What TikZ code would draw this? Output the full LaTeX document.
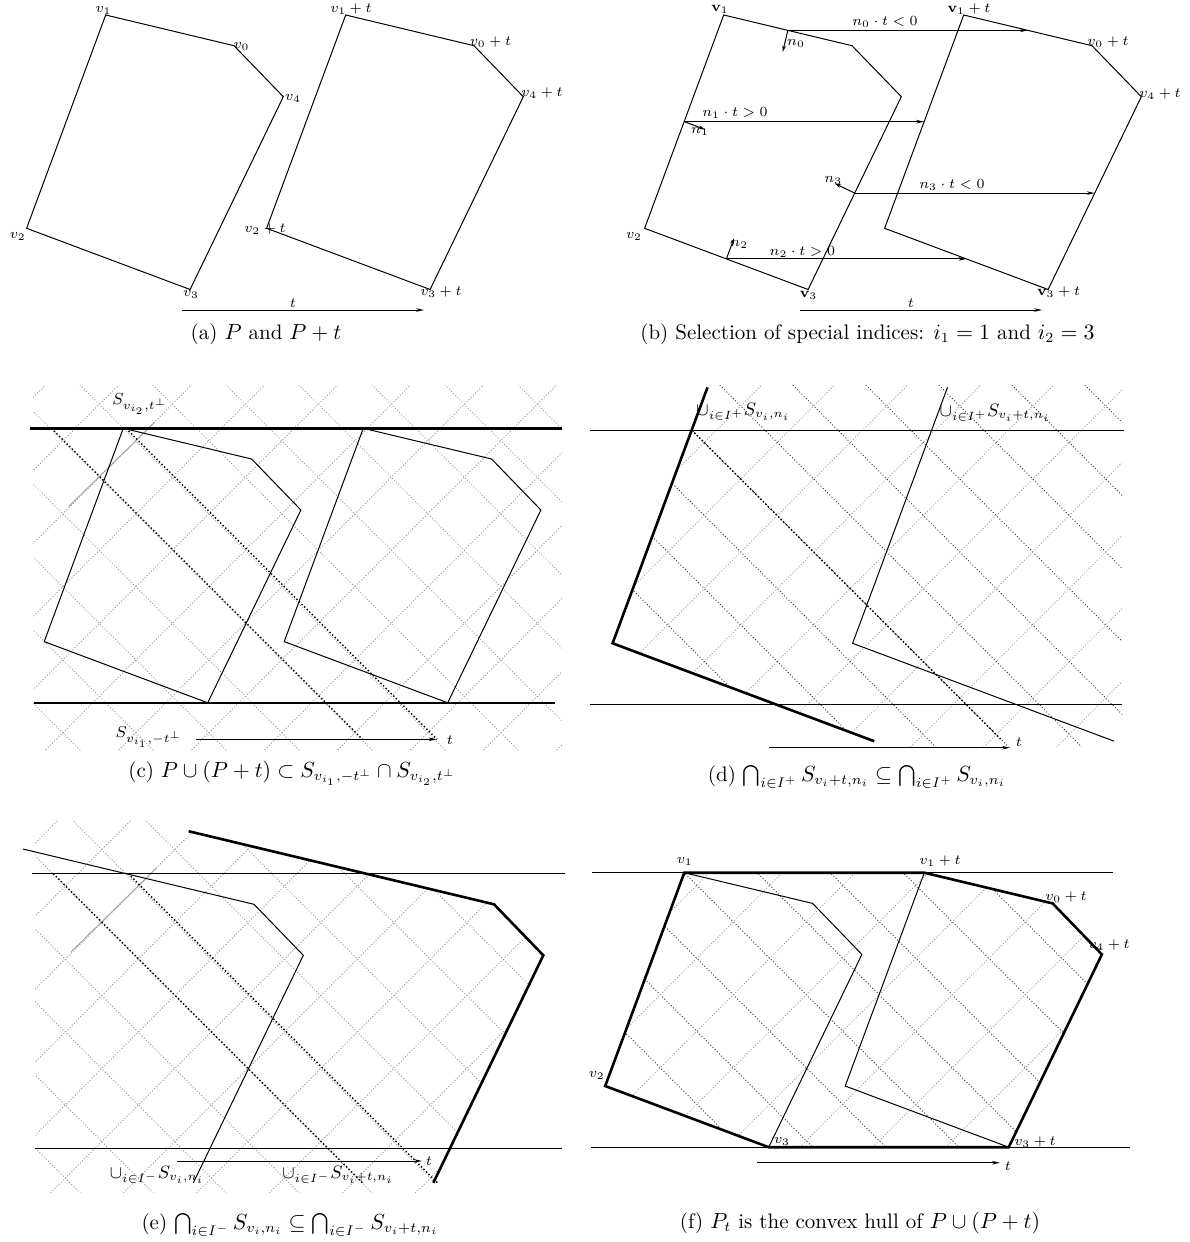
\documentclass[tikz,border=0pt]{standalone}
\usepackage{amsmath,amssymb}
\usetikzlibrary{arrows.meta,calc}

\tikzset{
  polyedge/.style={line width=0.5pt},
  hulledge/.style={line width=1.3pt},
  tarrow/.style={line width=0.5pt,-{Stealth[length=4pt,width=1.8pt]}},
  normalarrow/.style={line width=0.5pt,-{Stealth[length=3pt,width=1.8pt]}},
  hatchgray/.style={gray!75,line width=0.5pt,dash pattern=on 0.5pt off 1pt},
  hatchdark/.style={black!85,line width=0.45pt,dash pattern=on 0.45pt off 1.1pt},
  halfline/.style={black,line width=0.7pt,dash pattern=on 0.7pt off 1.1pt},
  leader/.style={gray!70,line width=0.5pt},
  vlabel/.style={font=\scriptsize,inner sep=0pt},
  slabel/.style={font=\footnotesize,inner sep=0pt},
  ulabel/.style={font=\small,inner sep=0pt},
  subcaption/.style={font=\fontsize{10.5}{12}\selectfont,inner sep=0pt},
}

% the polygon P and its translate P+t, in panel coordinates
\newcommand{\placepoly}{%
  \coordinate (v0) at (234,45.7);
  \coordinate (v1) at (105.7,15);
  \coordinate (v2) at (26.6,228.3);
  \coordinate (v3) at (190.1,289.5);
  \coordinate (v4) at (283.3,96.7);
  \coordinate (v0t) at (474,45.7);
  \coordinate (v1t) at (345.7,15);
  \coordinate (v2t) at (266.6,228.3);
  \coordinate (v3t) at (430.1,289.5);
  \coordinate (v4t) at (523.3,96.7);}

% crossing dotted lines at 45 degrees
\newcommand{\hatchgrid}[2]{%
  \foreach \k in {0,...,18} {
    \draw[#2] (73*\k-780.3,415) -- ++(800,-800);
    \draw[#1] (73*\k-805.3,-385) -- ++(800,800);
  }}

\begin{document}
\begin{tikzpicture}[x=0.5pt,y=-0.5pt]
  \useasboundingbox (0,0) rectangle (1189,1242);

  % (a) P and P+t
  \begin{scope}
    \placepoly
    \draw[polyedge] (v0) -- (v1) -- (v2) -- (v3) -- (v4) -- cycle;
    \draw[polyedge] (v0t) -- (v1t) -- (v2t) -- (v3t) -- (v4t) -- cycle;
    \node[vlabel] (a-v1) at (103.5,10.5) {$v_1$};
    \node[vlabel] (a-v0) at (241.5,46) {$v_0$};
    \node[vlabel] (a-v4) at (293,98) {$v_4$};
    \node[vlabel] (a-v3) at (191,294) {$v_3$};
    \node[vlabel] (a-v2) at (17.7,236) {$v_2$};
    \node[vlabel] (a-v1t) at (351,9.3) {$v_1+t$};
    \node[vlabel] (a-v0t) at (490.5,41.7) {$v_0+t$};
    \node[vlabel] (a-v4t) at (542,93.3) {$v_4+t$};
    \node[vlabel] (a-v2t) at (265,229.3) {$v_2+t$};
    \node[vlabel] (a-v3t) at (441,292.3) {$v_3+t$};
    \coordinate (a-ts) at (181.7,310);
    \coordinate (a-te) at (424,310);
    \draw[tarrow] (a-ts) -- (a-te);
    \node[vlabel] (a-t) at (292.8,302.7) {$t$};
  \end{scope}

  % (b) special indices
  \begin{scope}[shift={(618,0)}]
    \placepoly
    \draw[polyedge] (v0) -- (v1) -- (v2) -- (v3) -- (v4) -- cycle;
    \draw[polyedge] (v0t) -- (v1t) -- (v2t) -- (v3t) -- (v4t) -- cycle;
    \foreach \i/\j in {0/1,1/2,2/3,3/4} {
      \coordinate (m\i) at ($(v\i)!0.5!(v\j)$);
      \coordinate (m\i t) at ($(v\i t)!0.5!(v\j t)$);
      \coordinate (n\i) at ($(m\i)!11pt!-90:(v\i)$);
      \draw[tarrow] (m\i) -- (m\i t);
      \draw[normalarrow] (m\i) -- (n\i);
    }
    \node[vlabel] (b-n0) at (178,43.3) {$n_0$};
    \node[vlabel] (b-n1) at (82,131.7) {$n_1$};
    \node[vlabel] (b-n2) at (121.3,244) {$n_2$};
    \node[vlabel] (b-n3) at (215.3,180) {$n_3$};
    \node[vlabel] (b-p0) at (267,21.7) {$n_0\cdot t<0$};
    \node[vlabel] (b-p1) at (117,113) {$n_1\cdot t>0$};
    \node[vlabel] (b-p2) at (184.3,251.7) {$n_2\cdot t>0$};
    \node[vlabel] (b-p3) at (334,185) {$n_3\cdot t<0$};
    \node[vlabel] (b-v1) at (102,9.5) {$\mathbf{v}_1$};
    \node[vlabel] (b-v1t) at (351,9.3) {$\mathbf{v}_1+t$};
    \node[vlabel] (b-v0t) at (490,41.7) {$v_0+t$};
    \node[vlabel] (b-v4t) at (542,94) {$v_4+t$};
    \node[vlabel] (b-v2) at (16,236) {$v_2$};
    \node[vlabel] (b-v3) at (190.5,295) {$\mathbf{v}_3$};
    \node[vlabel] (b-v3t) at (440.6,292.3) {$\mathbf{v}_3+t$};
    \coordinate (b-ts) at (181.7,310);
    \coordinate (b-te) at (424,310);
    \draw[tarrow] (b-ts) -- (b-te);
    \node[vlabel] (b-t) at (292.8,302.7) {$t$};
  \end{scope}

  % (c) the strip between the two supporting lines
  \begin{scope}[shift={(17.6,413.3)}]
    \placepoly
    \begin{scope}
      \clip (15.4,-28.3) rectangle (544.4,336.7);
      \hatchgrid{hatchgray}{hatchgray}
    \end{scope}
    \draw[leader] (51.2,93.2) -- (137,9);
    \draw[halfline] (108.4,15) -- (419.4,326);
    \draw[halfline] (33.9,15) -- (344.9,326);
    \draw[hulledge] (12.8,15) -- (544.4,15);
    \draw[hulledge] (15.9,289.5) -- (537.4,289.5);
    \draw[polyedge] (v0) -- (v1) -- (v2) -- (v3) -- (v4) -- cycle;
    \draw[polyedge] (v0t) -- (v1t) -- (v2t) -- (v3t) -- (v4t) -- cycle;
    \node[slabel] (c-s2) at (122.4,-9.3) {$S_{v_{i_2},t^{\perp}}$};
    \node[slabel] (c-s1) at (131.4,323.7) {$S_{v_{i_1},-t^{\perp}}$};
    \coordinate (c-ts) at (178.2,326);
    \coordinate (c-te) at (419.1,326);
    \draw[tarrow] (c-ts) -- (c-te);
    \node[vlabel] (c-t) at (432.4,326.7) {$t$};
  \end{scope}

  % (d) indices in I^+
  \begin{scope}[shift={(586,415)}]
    \placepoly
    \begin{scope}
      \clip (4,-30) rectangle (536,331.7);
      \clip ($(v2)!1.5!(v1)$) -- (v2) -- ($(v2)!2!(v3)$) -- (700,500) -- (700,-200) -- cycle;
      \hatchgrid{hatchdark}{hatchgray}
    \end{scope}
    \draw[polyedge] (4,15) -- (538,15);
    \draw[polyedge] (4,289.5) -- (536,289.5);
    \draw[halfline] (v1) -- (415.7,325);
    \draw[hulledge] ($(v2)!1.2!(v1)$) -- (v2) -- ($(v2)!1.6!(v3)$);
    \draw[polyedge] ($(v2t)!1.2!(v1t)$) -- (v2t) -- ($(v2t)!1.6!(v3t)$);
    \node[ulabel] (d-u1) at (157.3,-3) {$\cup_{i\in I^+}S_{v_i,n_i}$};
    \node[ulabel] (d-u2) at (409,-2) {$\cup_{i\in I^+}S_{v_i+t,n_i}$};
    \coordinate (d-ts) at (182.7,332.7);
    \coordinate (d-te) at (424,332.7);
    \draw[tarrow] (d-ts) -- (d-te);
    \node[vlabel] (d-t) at (433,326.7) {$t$};
  \end{scope}

  % (e) indices in I^-
  \begin{scope}[shift={(20,858.6)}]
    \placepoly
    \begin{scope}
      \clip (15,-38.6) rectangle (543,333.4);
      \clip ($(v0t)!2.38!(v1t)$) -- (v0t) -- (v4t) -- ($(v4t)!1.6!(v3t)$) -- (-200,600) -- (-200,-200) -- (168.6,-200) -- cycle;
      \hatchgrid{hatchgray}{hatchgray}
    \end{scope}
    \draw[leader] (51.2,93.2) -- (137,9);
    \draw[halfline] (108.3,15) -- (418,324.7);
    \draw[halfline] (33.3,15) -- (343,324.7);
    \draw[polyedge] (12.3,15) -- (544.6,15);
    \draw[polyedge] (15,289.5) -- (542,289.5);
    \draw[polyedge] ($(v0)!1.8!(v1)$) -- (v0) -- (v4) -- ($(v4)!1.18!(v3)$);
    \draw[hulledge] ($(v0t)!2.38!(v1t)$) -- (v0t) -- (v4t) -- ($(v4t)!1.18!(v3t)$);
    \node[ulabel] (e-u1) at (137,316.4) {$\cup_{i\in I^-}S_{v_i,n_i}$};
    \node[ulabel] (e-u2) at (318,316.4) {$\cup_{i\in I^-}S_{v_i+t,n_i}$};
    \coordinate (e-ts) at (156.8,302.4);
    \coordinate (e-te) at (402,302.4);
    \draw[tarrow] (e-ts) -- (e-te);
    \node[vlabel] (e-t) at (409,303) {$t$};
  \end{scope}

  % (f) convex hull
  \begin{scope}[shift={(578.6,857.7)}]
    \placepoly
    \begin{scope}
      \clip (v1) -- (v1t) -- (v0t) -- (v4t) -- (v3t) -- (v3) -- (v2) -- cycle;
      \hatchgrid{hatchdark}{hatchgray}
    \end{scope}
    \draw[polyedge] (13.1,15) -- (534.2,15);
    \draw[polyedge] (12.4,289.5) -- (551.4,289.5);
    \draw[polyedge] (v1) -- (v0) -- (v4) -- (v3);
    \draw[polyedge] (v1t) -- (v2t) -- (v3t);
    \draw[hulledge] (v1) -- (v1t) -- (v0t) -- (v4t) -- (v3t) -- (v3) -- (v2) -- cycle;
    \node[vlabel] (f-v1) at (106.1,4) {$v_1$};
    \node[vlabel] (f-v1t) at (361.4,3) {$v_1+t$};
    \node[vlabel] (f-v0t) at (487.4,39.6) {$v_0+t$};
    \node[vlabel] (f-v4t) at (530.4,87.3) {$v_4+t$};
    \node[vlabel] (f-v2) at (18.2,217.3) {$v_2$};
    \node[vlabel] (f-v3) at (203.4,284) {$v_3$};
    \node[vlabel] (f-v3t) at (456.4,284) {$v_3+t$};
    \coordinate (f-ts) at (178.7,305);
    \coordinate (f-te) at (421.3,305);
    \draw[tarrow] (f-ts) -- (f-te);
    \node[vlabel] (f-t) at (429.4,308.3) {$t$};
  \end{scope}

  % captions
  \node[subcaption] (cap-a) at (266,334) {(a) $P$ and $P+t$};
  \node[subcaption] (cap-b) at (867.5,334) {(b) Selection of special indices: $i_1=1$ and $i_2=3$};
  \node[subcaption] (cap-c) at (292,773) {(c) $P\cup(P+t)\subset S_{v_{i_1},-t^{\perp}}\cap S_{v_{i_2},t^{\perp}}$};
  \node[subcaption] (cap-d) at (857,777) {(d) $\bigcap_{i\in I^+}S_{v_i+t,n_i}\subseteq\bigcap_{i\in I^+}S_{v_i,n_i}$};
  \node[subcaption] (cap-e) at (290,1225) {(e) $\bigcap_{i\in I^-}S_{v_i,n_i}\subseteq\bigcap_{i\in I^-}S_{v_i+t,n_i}$};
  \node[subcaption] (cap-f) at (860,1223) {(f) $P_t$ is the convex hull of $P\cup(P+t)$};
\end{tikzpicture}
\end{document}
